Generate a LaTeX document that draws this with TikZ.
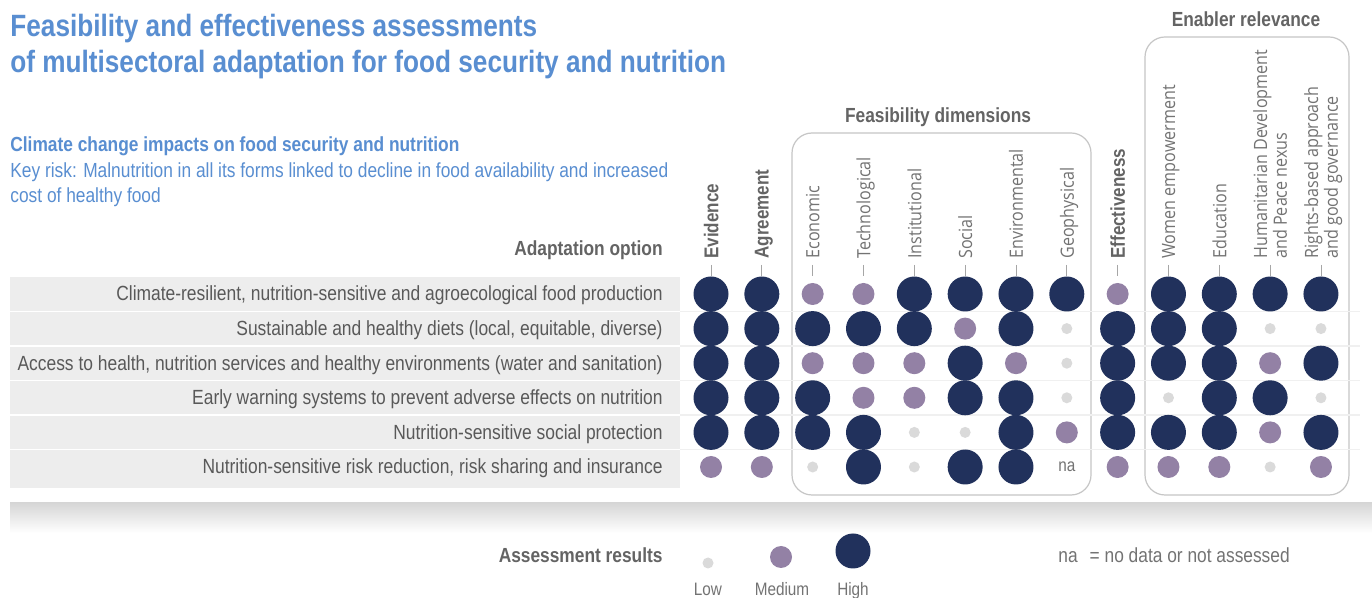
\documentclass[tikz,border=0pt]{standalone}
\usepackage{fontspec}
\setmainfont{Liberation Sans}[FakeStretch=0.85]
\newfontfamily\lightfont{Open Sans}[FakeStretch=0.88]

\definecolor{titleblue}{RGB}{89,142,209}
\definecolor{textgray}{RGB}{89,89,89}
\definecolor{headgray}{RGB}{100,100,100}
\definecolor{labgray}{RGB}{115,115,115}
\definecolor{highc}{RGB}{33,49,92}
\definecolor{medc}{RGB}{147,129,165}
\definecolor{lowc}{RGB}{218,218,218}
\definecolor{bandgray}{RGB}{237,237,237}

\begin{document}
\begin{tikzpicture}[x=0.5pt,y=-0.5pt,inner sep=0pt,
  title/.style={font=\bfseries\fontsize{15.4}{18}\selectfont,text=titleblue,anchor=base west},
  sub title/.style={font=\bfseries\fontsize{10.2}{12}\selectfont,text=titleblue,anchor=base west},
  sub text/.style={font=\fontsize{10.2}{12}\selectfont,text=titleblue,anchor=base west},
  head/.style={font=\bfseries\fontsize{10.2}{12}\selectfont,text=headgray},
  option/.style={font=\fontsize{10.25}{12}\selectfont,text=textgray,anchor=base east},
  bold lab/.style={font=\bfseries\fontsize{10}{12}\selectfont,text=headgray,rotate=90,anchor=west,text depth=0pt,align=left},
  thin lab/.style={font=\lightfont\fontsize{9.15}{9.9}\selectfont,text=labgray,rotate=90,anchor=west,text depth=0pt,align=left},
  tick/.style={draw=gray!70,line width=0.4pt},
  group box/.style={draw=gray!45,fill=white,line width=0.6pt,rounded corners=10pt},
  disc/.style={circle,draw=none,minimum size=#1},
  hi/.style={disc=17.5pt,fill=highc},
  md/.style={disc=11pt,fill=medc},
  lo/.style={disc=5.5pt,fill=lowc},
  na/.style={font=\fontsize{9}{10}\selectfont,text=labgray,execute at begin node={na}},
  legend/.style={font=\fontsize{9}{10}\selectfont,text=labgray,anchor=base}]
  \useasboundingbox (0,0) rectangle (1372,598);
  \fill[white] (0,0) rectangle (1372,598);

  % title block
  \node[title] (t1) at (10,37) {Feasibility and effectiveness assessments};
  \node[title] (t2) at (10,73) {of multisectoral adaptation for food security and nutrition};
  \node[sub title] (s1) at (10,152) {Climate change impacts on food security and nutrition};
  \node[sub text] (s2) at (10,178) {Key risk: Malnutrition in all its forms linked to decline in food availability and increased};
  \node[sub text] (s3) at (10,203) {cost of healthy food};

  % background band, groups and row rules
  \fill[bandgray] (10,277) rectangle (680,488);
  \shade[top color=gray!32,bottom color=white] (10,503) rectangle (1372,533);
  \draw[group box] (792,133) rectangle (1091,495);
  \draw[group box] (1145,37) rectangle (1349,495);
  \foreach \y in {311.5,346,380.5,415,449.5} {
    \draw[white,line width=0.8pt] (10,\y) -- (680,\y);
    \draw[gray!12,line width=0.6pt] (680,\y) -- (1360,\y);
  }

  % headers
  \node[head,anchor=base east] (adapt) at (663,256) {Adaptation option};
  \node[head,anchor=base] (feas) at (938,123) {Feasibility dimensions};
  \node[head,anchor=base] (enab) at (1246,27) {Enabler relevance};

  \foreach \lab/\sty [count=\c] in {Evidence/bold lab,Agreement/bold lab,Economic/thin lab,
      Technological/thin lab,Institutional/thin lab,Social/thin lab,Environmental/thin lab,
      Geophysical/thin lab,Effectiveness/bold lab,Women empowerment/thin lab,Education/thin lab,
      Humanitarian Development\\and Peace nexus/thin lab,Rights-based approach\\and good governance/thin lab} {
    \coordinate (tk-\c) at ({711+(\c-1)*50.83},265);
    \node[\sty] (col-\c) at ({711+(\c-1)*50.83},259) {\lab};
    \draw[tick] (tk-\c) -- ++(0,11);
  }

  % adaptation options
  \foreach \opt [count=\r] in {{Climate-resilient, nutrition-sensitive and agroecological food production},
      {Sustainable and healthy diets (local, equitable, diverse)},
      {Access to health, nutrition services and healthy environments (water and sanitation)},
      {Early warning systems to prevent adverse effects on nutrition},
      {Nutrition-sensitive social protection},
      {Nutrition-sensitive risk reduction, risk sharing and insurance}}
    \node[option] (opt-\r) at (663,{301+(\r-1)*34.6}) {\opt};

  % assessment dots
  \foreach \vals [count=\r] in {{hi,hi,md,md,hi,hi,hi,hi,md,hi,hi,hi,hi},
      {hi,hi,hi,hi,hi,md,hi,lo,hi,hi,hi,lo,lo},
      {hi,hi,md,md,md,hi,md,lo,hi,hi,hi,md,hi},
      {hi,hi,hi,md,md,hi,hi,lo,hi,lo,hi,hi,lo},
      {hi,hi,hi,hi,lo,lo,hi,md,hi,hi,hi,md,hi},
      {md,md,lo,hi,lo,hi,hi,na,md,md,md,lo,md}}
    \foreach \v [count=\c] in \vals
      \node[\v] (d-\r-\c) at ({711+(\c-1)*50.83},{294+(\r-1)*34.6}) {};

  % legend
  \node[head,anchor=base east] (res) at (663,563) {Assessment results};
  \node[lo] (lg-lo) at (708,563) {};
  \node[md] (lg-md) at (781,557) {};
  \node[hi] (lg-hi) at (853,551) {};
  \node[legend] (lg-lo-t) at (708,596) {Low};
  \node[legend] (lg-md-t) at (782,596) {Medium};
  \node[legend] (lg-hi-t) at (853,596) {High};
  \node[legend,font=\fontsize{10.2}{11}\selectfont,anchor=base west] (lg-na) at (1058,563) {na\hspace{6pt}= no data or not assessed};
\end{tikzpicture}
\end{document}
